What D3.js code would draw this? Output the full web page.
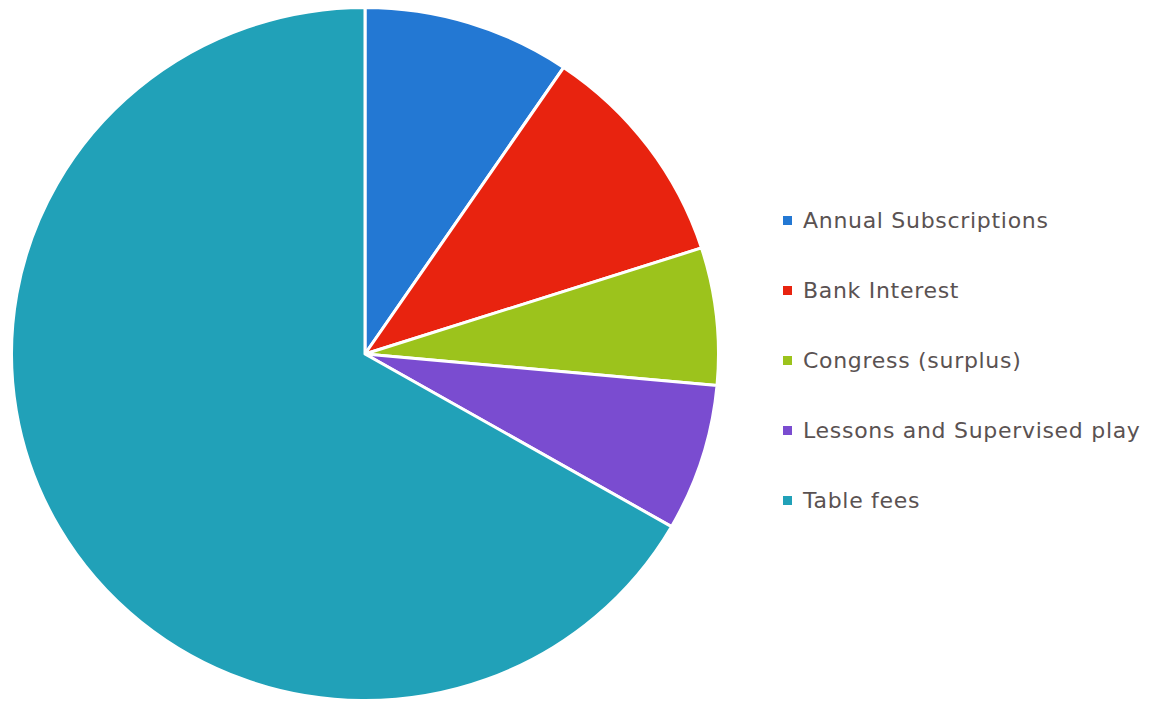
<!DOCTYPE html>
<html lang="en">
<head>
    <title>Income</title>
    <script src="https://d3js.org/d3.v7.min.js"></script>
    <style>
        body { margin: 0; background: #fff; }
        .legend text {
            font-family: "DejaVu Sans", sans-serif;
            font-size: 22px;
            letter-spacing: 0.7px;
            fill: #5a5252;
        }
    </style>
</head>
<body>

<script>
    const categories = ["Annual Subscriptions", "Bank Interest", "Congress (surplus)", "Lessons and Supervised play", "Table fees"];
    const values = [950, 1055, 640, 685, 6670];
    const colours = ["#2378d3", "#e8230f", "#9cc31c", "#7a4cd0", "#21a1b8"];

    const width = 1149, height = 709;
    const cx = 365, cy = 354, radius = 350;

    const svg = d3.select("body").append("svg")
        .attr("width", width).attr("height", height);

    const colour = d3.scaleOrdinal().domain(categories).range(colours);

    const pie = d3.pie().sort(null).value(d => d.value);
    const arc = d3.arc().innerRadius(0).outerRadius(radius);

    const data = categories.map((c, i) => ({name: c, value: values[i]}));

    svg.append("g")
        .attr("transform", `translate(${cx},${cy}) scale(1.01,0.99)`)
        .selectAll("path")
        .data(pie(data)).enter()
        .append("path")
        .attr("d", arc)
        .attr("fill", d => colour(d.data.name))
        .attr("stroke", "#fff")
        .attr("stroke-width", 3)
        .attr("stroke-linejoin", "round");

    // legend
    const legendY = d3.scalePoint().domain(categories).range([220, 500]);

    const legend = svg.append("g").attr("class", "legend")
        .selectAll("g")
        .data(categories).enter()
        .append("g")
        .attr("transform", d => `translate(783,${legendY(d)})`);

    legend.append("rect")
        .attr("x", 0).attr("y", -4)
        .attr("width", 9).attr("height", 9)
        .attr("fill", d => colour(d));

    legend.append("text")
        .attr("x", 20).attr("y", 0)
        .attr("dy", "0.35em")
        .text(d => d);
</script>

</body>
</html>
